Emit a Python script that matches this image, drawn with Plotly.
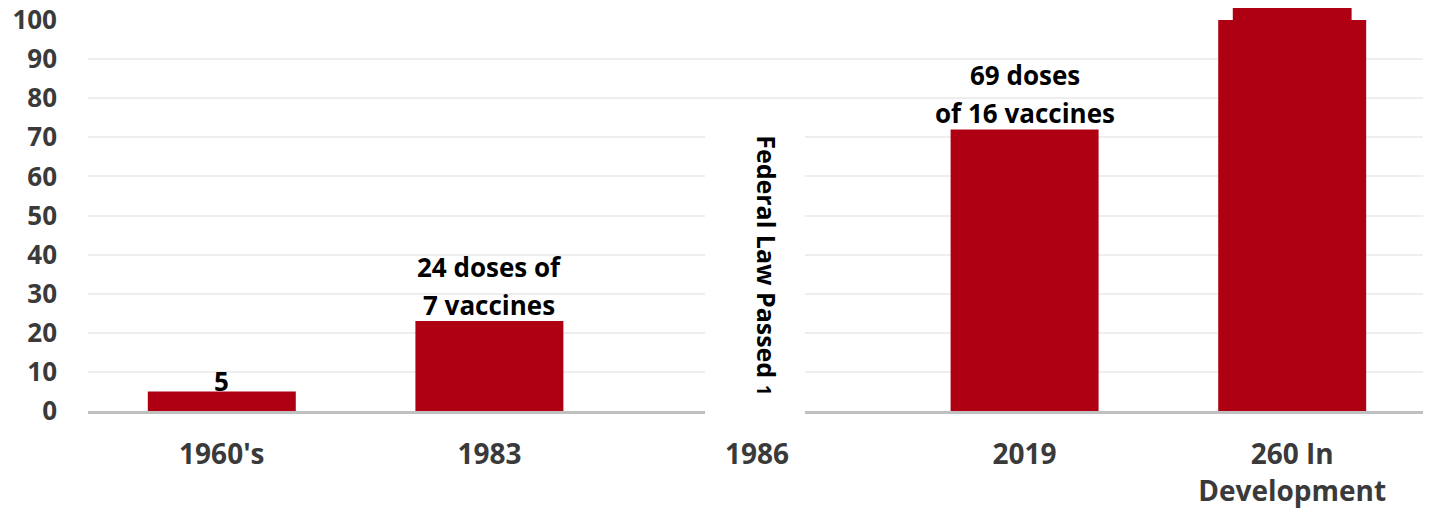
import plotly.graph_objects as go

# ---- data ----
categories = ["1960's", "1983", "1986", "2019", "260 In<br>Development"]
values = [5, 23, None, 72, 260]
bar_labels = ["5", "24 doses of<br>7 vaccines", "", "69 doses<br>of 16 vaccines", ""]
y_ticks = [0, 10, 20, 30, 40, 50, 60, 70, 80, 90, 100]
law_text = "Federal Law Passed <span style='font-size:19px'>1</span>"
law_category_index = 2
arrow_category_index = 4

# ---- style ----
BAR_COLOR = "#AE0012"
TICK_COLOR = "#3a3a3a"
FONT = "Open Sans"
BAR_WIDTH = 0.553
LINE_GAP = 38
label_base_shift = {"5": -10}

fig = go.Figure()
fig.add_trace(go.Bar(
    x=list(range(len(categories))),
    y=values,
    width=BAR_WIDTH,
    marker=dict(color=BAR_COLOR, line=dict(width=0)),
    hoverinfo="skip",
))

annotations = []
for i, (lab, val) in enumerate(zip(bar_labels, values)):
    if not lab or val is None:
        continue
    lines = lab.split("<br>")
    base = label_base_shift.get(lab, -4)
    for j, line in enumerate(reversed(lines)):
        annotations.append(dict(
            x=i, y=val, xref="x", yref="y", text=line, showarrow=False,
            yanchor="bottom", yshift=base + j * LINE_GAP,
            font=dict(family=FONT, size=26, color="#000000", weight=700),
        ))

annotations.append(dict(
    x=law_category_index, y=0.373, xref="x", yref="paper", text=law_text,
    showarrow=False, textangle=90, xshift=10,
    font=dict(family=FONT, size=25, color="#000000", weight=700),
))

shapes = [
    # white band interrupting grid/axis around the law marker
    dict(type="rect", xref="x", yref="paper",
         x0=law_category_index - 0.194, x1=law_category_index + 0.179,
         y0=-0.03, y1=0.73, fillcolor="white", line=dict(width=0), layer="above"),
    # narrower top piece of the off-scale bar
    dict(type="rect", xref="x", yref="paper",
         x0=arrow_category_index - 0.222, x1=arrow_category_index + 0.222,
         y0=0.995, y1=1.2, fillcolor=BAR_COLOR, line=dict(width=0), layer="above"),
]

# page body adds an 8px offset, so the figure is sized/margined to compensate
fig.update_layout(
    width=1423, height=500,
    margin=dict(l=80, r=5, t=12, b=97, autoexpand=False),
    paper_bgcolor="white", plot_bgcolor="white",
    showlegend=False,
    annotations=annotations,
    shapes=shapes,
    xaxis=dict(
        range=[-0.5, len(categories) - 0.5],
        tickmode="array", tickvals=list(range(len(categories))), ticktext=categories,
        tickfont=dict(family=FONT, size=28, color=TICK_COLOR, weight=700),
        showgrid=False, zeroline=False, automargin=False,
        showline=True, linecolor="#c0c0c0", linewidth=2.5,
        ticks="", ticklabelstandoff=17,
    ),
    yaxis=dict(
        range=[0, 100], tickvals=y_ticks,
        tickfont=dict(family=FONT, size=26, color=TICK_COLOR, weight=700),
        showgrid=True, gridcolor="#eeeeee", gridwidth=1.5,
        zeroline=False, showline=False, ticks="", automargin=False,
        ticklabelstandoff=30, ticklabeloverflow="allow",
    ),
)

fig.write_html("out.html")
